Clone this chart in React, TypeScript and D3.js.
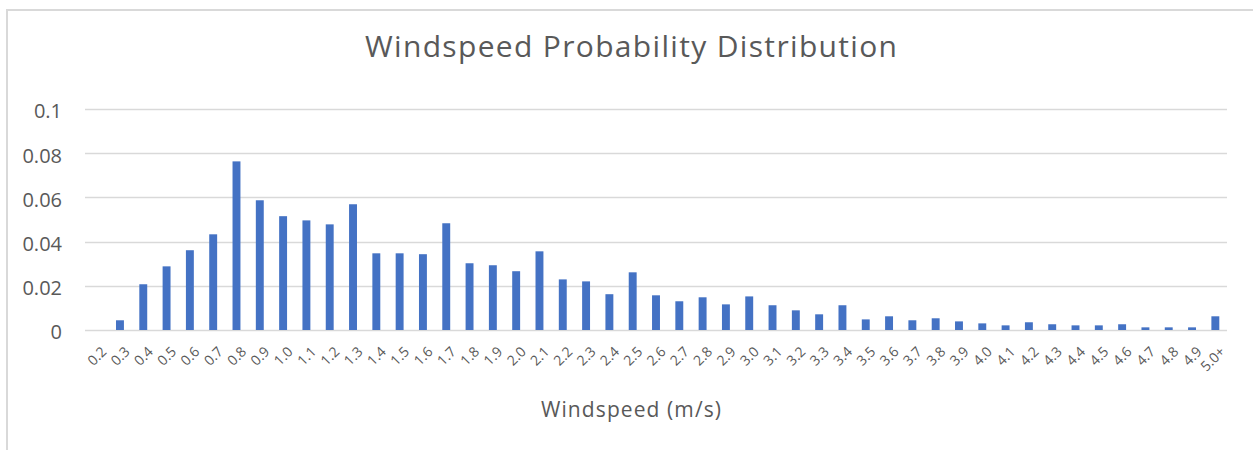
import React from "react";
import * as d3 from "d3";

const categories: string[] = [
  "0.2","0.3","0.4","0.5","0.6","0.7","0.8","0.9","1.0","1.1","1.2","1.3","1.4","1.5","1.6","1.7","1.8","1.9","2.0","2.1",
  "2.2","2.3","2.4","2.5","2.6","2.7","2.8","2.9","3.0","3.1","3.2","3.3","3.4","3.5","3.6","3.7","3.8","3.9","4.0","4.1",
  "4.2","4.3","4.4","4.5","4.6","4.7","4.8","4.9","5.0+",
];

const probabilities: number[] = [
  0, 0.0044, 0.0207, 0.0288, 0.0361, 0.0433, 0.0763, 0.0587, 0.0515, 0.0496, 0.0478, 0.0569, 0.0347, 0.0347, 0.0343, 0.0483,
  0.0302, 0.0293, 0.0266, 0.0356, 0.0229, 0.022, 0.0162, 0.0261, 0.0157, 0.013, 0.0148, 0.0116, 0.0152, 0.0112, 0.0089, 0.0071,
  0.0112, 0.0048, 0.0062, 0.0044, 0.0053, 0.0039, 0.003, 0.0021, 0.0035, 0.0026, 0.0021, 0.0021, 0.0026, 0.0012, 0.0012, 0.0012,
  0.0062,
];

const yTicks: number[] = [0, 0.02, 0.04, 0.06, 0.08, 0.1];
const yTickLabels: string[] = ["0", "0.02", "0.04", "0.06", "0.08", "0.1"];

const title = "Windspeed Probability Distribution";
const xAxisTitle = "Windspeed (m/s)";

const W = 1253;
const H = 450;
const FONT = "'Open Sans', sans-serif";
const TEXT = "#595959";
const GRID = "#d9d9d9";
const BAR = "#4472C4";

export default function App() {
  const x = d3
    .scaleBand<string>()
    .domain(categories)
    .range([85, 1227])
    .paddingInner(0.66)
    .paddingOuter(0.33);
  const y = d3.scaleLinear().domain([0, 0.1]).range([330, 109]);

  return (
    <svg
      width={W}
      height={H}
      style={{ position: "absolute", left: 0, top: 0, background: "#fff" }}
      fontFamily={FONT}
    >
      <rect x={0} y={0} width={W} height={H} fill="#fff" />
      <rect x={7} y={10} width={1260} height={460} fill="#fff" stroke={GRID} strokeWidth={2} />
      <text
        x={631}
        y={57}
        textAnchor="middle"
        fontSize={30}
        fill={TEXT}
        textLength={532}
        lengthAdjust="spacing"
      >
        {title}
      </text>
      {yTicks.map((t, i) => (
        <g key={i}>
          <line x1={85} x2={1227} y1={Math.round(y(t)) + 0.5} y2={Math.round(y(t)) + 0.5} stroke={GRID} strokeWidth={1.3} />
          <text x={62} y={y(t) + 4} textAnchor="end" dominantBaseline="middle" fontSize={20} fill={TEXT}>
            {yTickLabels[i]}
          </text>
        </g>
      ))}
      {categories.map((c, i) => (
        <rect
          key={c}
          x={x(c)!}
          y={y(probabilities[i])}
          width={x.bandwidth()}
          height={y(0) - y(probabilities[i])}
          fill={BAR}
        />
      ))}
      {categories.map((c) => {
        const cx = x(c)! + x.bandwidth() / 2;
        return (
          <text
            key={c}
            transform={`translate(${cx + 8},${350}) rotate(-45)`}
            textAnchor="end"
            dominantBaseline="middle"
            fontSize={14}
            fill={TEXT}
          >
            {c}
          </text>
        );
      })}
      <text
        x={631}
        y={417}
        textAnchor="middle"
        fontSize={21}
        fill={TEXT}
        textLength={180}
        lengthAdjust="spacing"
      >
        {xAxisTitle}
      </text>
    </svg>
  );
}
